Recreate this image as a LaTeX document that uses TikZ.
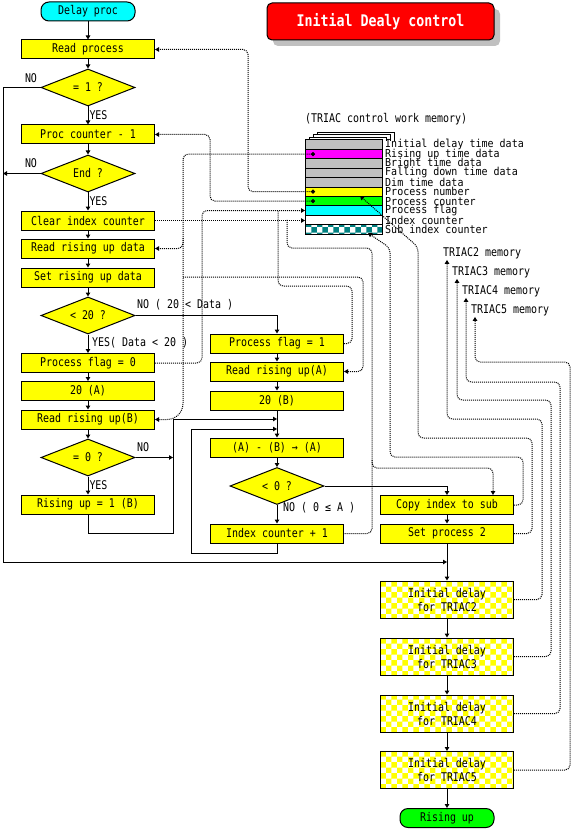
\documentclass[tikz,border=0pt]{standalone}
\usepackage{fontspec}
\usepackage{xcolor}
\usetikzlibrary{arrows.meta,shapes.geometric,patterns,shadows}
\newfontfamily\gothic[FakeStretch=0.83]{DejaVu Sans Mono}
\newfontfamily\gothicsmall[FakeStretch=0.91]{DejaVu Sans Mono}

\definecolor{boxyellow}{RGB}{255,255,0}
\definecolor{termcyan}{RGB}{0,255,255}
\definecolor{termgreen}{RGB}{0,255,0}
\definecolor{titlered}{RGB}{255,0,0}
\definecolor{shadowgray}{RGB}{192,192,192}
\definecolor{rowgray}{RGB}{192,192,192}
\definecolor{rowmagenta}{RGB}{255,0,255}
\definecolor{rowteal}{RGB}{0,128,128}

\tikzset{
  every node/.style={font=\gothic\fontsize{12}{14}\selectfont},
  proc/.style={draw, fill=boxyellow, line width=1pt, minimum width=133pt, minimum height=19pt, inner sep=0pt},
  delaybox/.style={draw, pattern=checkerboard, pattern color=boxyellow, line width=1pt, minimum width=133pt, minimum height=37pt, inner sep=0pt, align=center},
  decision/.style={draw, diamond, fill=boxyellow, line width=1pt, aspect=2.5, minimum width=94pt, minimum height=37pt, inner sep=0pt},
  terminal/.style={draw, line width=1pt, rounded corners=8pt, minimum width=94pt, minimum height=19pt, inner sep=0pt},
  titlebox/.style={draw, fill=titlered, line width=1pt, rounded corners=5pt, minimum width=227pt, minimum height=37pt, text=white,
    font=\gothic\bfseries\fontsize{16}{16}\selectfont,
    drop shadow={shadow xshift=6pt, shadow yshift=-6pt, fill=shadowgray, opacity=1}},
  memrow/.style={draw, line width=1pt, minimum width=77pt, minimum height=9.4pt, inner sep=0pt, outer sep=0pt},
  memgray/.style={fill=rowgray},
  memmag/.style={fill=rowmagenta},
  memyel/.style={fill=boxyellow},
  memgrn/.style={fill=termgreen},
  memcyan/.style={fill=termcyan},
  memwhite/.style={fill=white},
  memsub/.style={pattern=checkerboard, pattern color=rowteal},
  memtext/.style={anchor=west, inner sep=0pt, font=\gothicsmall\fontsize{11}{11}\selectfont},
  flowlbl/.style={inner sep=1pt},
  wire/.style={line width=1pt},
  flow/.style={line width=1pt, -{Triangle[length=4pt,width=4.5pt]}},
  link/.style={line width=1pt, dash pattern=on 1pt off 1pt, rounded corners=5pt},
  linktip/.style={-{Triangle[length=4pt,width=4.5pt]}},
  readlink/.style={link, {Circle[length=4pt]}-{Triangle[length=4pt,width=4.5pt]}}
}

\begin{document}
\begin{tikzpicture}[x=1pt,y=-1pt]
    \useasboundingbox (0,0) rectangle (572,829);

    % title
    \node[titlebox] (title) at (380.5,21.5) {Initial Dealy control};

    % main column
    \node[terminal, fill=termcyan] (start) at (88,11.5) {Delay proc};
    \node[proc] (readproc) at (88,49.5) {Read process};
    \node[decision] (isone) at (88,87.5) {= 1 ?};
    \node[proc] (proccnt) at (88,134.5) {Proc counter - 1};
    \node[decision] (isend) at (88,173.5) {End ?};
    \node[proc] (clridx) at (88,220.5) {Clear index counter};
    \node[proc] (readrise) at (88,248.5) {Read rising up data};
    \node[proc] (setrise) at (88,277.5) {Set rising up data};
    \node[decision] (lttwenty) at (88,315.5) {< 20 ?};
    \node[proc] (flagzero) at (88,363) {Process flag = 0};
    \node[proc] (twentya) at (88,391) {20 (A)};
    \node[proc] (readb) at (88,419.5) {Read rising up(B)};
    \node[decision] (iszero) at (88,457.5) {= 0 ?};
    \node[proc] (riseone) at (88,504.5) {Rising up = 1 (B)};

    % second column
    \node[proc] (flagone) at (277,343.5) {Process flag = 1};
    \node[proc] (reada) at (277,371.5) {Read rising up(A)};
    \node[proc] (twentyb) at (277,400.5) {20 (B)};
    \node[proc] (minus) at (277,447.5) {(A) - (B) → (A)};
    \node[decision] (ltzero) at (277,486) {< 0 ?};
    \node[proc] (incidx) at (277,533.5) {Index counter + 1};

    % third column
    \node[proc] (copyidx) at (447,505) {Copy index to sub};
    \node[proc] (setproc) at (447,533.5) {Set process 2};
    \foreach \n/\y in {2/599.5,3/656.5,4/713.5,5/770}
        \node[delaybox] (delay\n) at (447,\y) {Initial delay\\for TRIAC\n};
    \node[terminal, fill=termgreen] (finish) at (447,818) {Rising up};

    % work memory
    \node[anchor=west, inner sep=0pt] (memtitle) at (305,119) {(TRIAC control work memory)};
    \foreach \k in {3,2,1}
        \draw[wire, fill=white] ({305+4*\k},141) |- ({382+4*\k},{140-2.5*\k}) -- ({382+4*\k},141);
    \foreach \i/\s/\t in {1/memgray/Initial delay time data, 2/memmag/Rising up time data,
        3/memgray/Bright time data, 4/memgray/Falling down time data, 5/memgray/Dim time data,
        6/memyel/Process number, 7/memgrn/Process counter, 8/memcyan/Process flag,
        9/memwhite/Index counter, 10/memsub/Sub index counter}
    {
        \node[memrow,\s] (mem\i) at (343.5,{135.3+9.4*\i}) {};
        \node[memtext] (memlbl\i) at (385,{135.3+9.4*\i}) {\t};
    }
    \foreach \n/\x/\y in {2/442/253,3/451/272,4/461/291,5/470/310}
        \node[anchor=west, inner sep=1pt] (trmem\n) at (\x,\y) {TRIAC\n\ memory};

    % flow
    \draw[flow] (start) -- (readproc);
    \draw[flow] (readproc) -- (isone);
    \draw[flow] (isone) -- node[right, flowlbl] {YES} (proccnt);
    \draw[flow] (proccnt) -- (isend);
    \draw[flow] (isend) -- node[right, flowlbl] {YES} (clridx);
    \draw[flow] (clridx) -- (readrise);
    \draw[flow] (readrise) -- (setrise);
    \draw[flow] (setrise) -- (lttwenty);
    \draw[flow] (lttwenty) -- (flagzero);
    \draw[flow] (flagzero) -- (twentya);
    \draw[flow] (twentya) -- (readb);
    \draw[flow] (readb) -- (iszero);
    \draw[flow] (iszero) -- node[right, flowlbl] {YES} (riseone);
    \draw[flow] (lttwenty.east) -| (flagone.north);
    \draw[flow] (flagone) -- (reada);
    \draw[flow] (reada) -- (twentyb);
    \draw[flow] (twentyb) -- (minus);
    \draw[flow] (minus) -- (ltzero);
    \draw[flow] (ltzero) -- (incidx);
    \draw[flow] (ltzero.east) -| (copyidx.north);
    \draw[flow] (copyidx) -- (setproc);
    \draw[flow] (setproc) -- (delay2);
    \draw[flow] (delay2) -- (delay3);
    \draw[flow] (delay3) -- (delay4);
    \draw[flow] (delay4) -- (delay5);
    \draw[flow] (delay5) -- (finish);

    % loops
    \coordinate (leftrail) at (3,562);
    \coordinate (merge) at (447,562);
    \coordinate (joinb) at (277,419);
    \coordinate (joinc) at (277,429);
    \draw[flow] (isone.west) -| (leftrail) -- (merge);
    \draw[flow] (isend.west) -- (isend.west -| leftrail);
    \draw[flow] (iszero.east) -- (173,457.5);
    \draw[flow] (riseone.south) |- (173,533) |- (joinb);
    \draw[flow] (incidx.south) |- (191,553) |- (joinc);

    \node[flowlbl] at (31,78) {NO};
    \node[flowlbl] at (31,163) {NO};
    \node[flowlbl] at (143,447) {NO};
    \node[flowlbl, anchor=west] at (136,305) {NO ( 20 < Data )};
    \node[flowlbl, anchor=west] at (91,343) {YES( Data < 20 )};
    \node[flowlbl, anchor=west] at (282,508) {NO ( 0 ≤ A )};

    % memory access
    \draw[readlink] ([xshift=10pt]mem6.west) -| (248,49.5) -- (readproc.east);
    \draw[readlink] ([xshift=10pt]mem7.west) -| (210,134.5) -- (proccnt.east);
    \draw[readlink] ([xshift=10pt]mem2.west) -| (183,300) [rounded corners=16pt] |- (readb.east);
    \draw[link, linktip] (183,238) |- (readrise.east);
    \draw[link, linktip] (183,277) -| (363,371.5) -- (reada.east);
    \draw[link, linktip] (clridx.east) -- (clridx.east -| mem9.west);
    \draw[link, linktip] (flagzero.east) -| (202,210.5) -- (mem8.west);
    \draw[link] (flagone.east) -| (352,286) -| (278,210.5);
    \draw[link] (287,219.9) |- (372,248) |- (incidx.east);
    \draw[link, linktip] (372,460) |- (493,468) -- ([xshift=46pt]copyidx.north);
    \draw[link, linktip] (copyidx.east) -| (523,457) -| (390,248) -- (368,233);
    \draw[link, linktip] (setproc.east) -| (532,438) -| (418,247) -- (360,196);
    \foreach \n/\r/\t/\a in {2/542/419/447, 3/551/400/457, 4/560/382/466, 5/570/362/475}
        \draw[link, linktip] (delay\n.east) -| (\r,\t) -| (\a,0 |- trmem\n.south);
\end{tikzpicture}
\end{document}
